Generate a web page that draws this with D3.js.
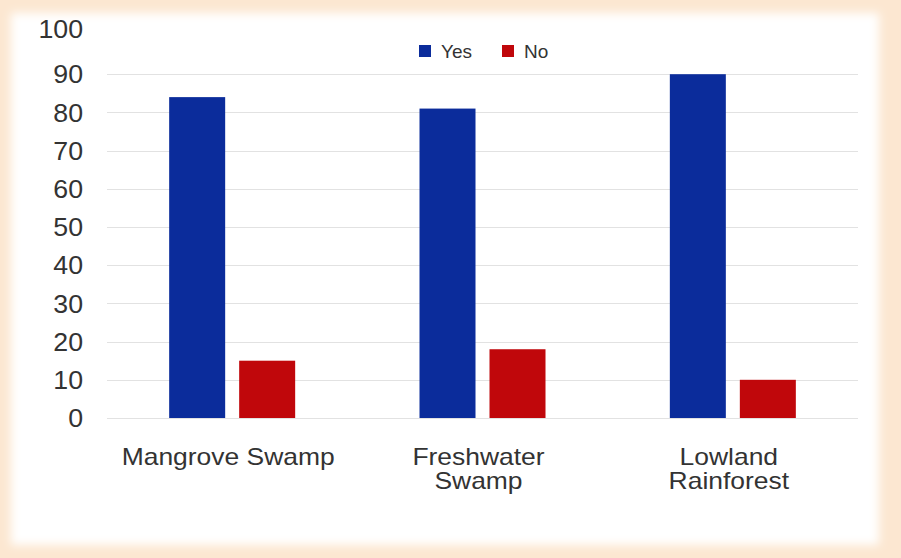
<!DOCTYPE html>
<html><head><meta charset="utf-8">
<script src="https://cdn.jsdelivr.net/npm/d3@7"></script>
<style>
html,body{margin:0;padding:0;background:#fce7d1;}
svg{display:block;}
text{font-family:"Liberation Sans",Arial,sans-serif;fill:#333;}
</style></head>
<body>
<svg id="chart" width="901" height="558"></svg>
<script>
const categories = ["Mangrove Swamp", "Freshwater Swamp", "Lowland Rainforest"];
const categoryLines = [["Mangrove Swamp"], ["Freshwater", "Swamp"], ["Lowland", "Rainforest"]];
const seriesNames = ["Yes", "No"];
const yesValues = [84, 81, 90];
const noValues = [15, 18, 10];
const yTicks = [0, 10, 20, 30, 40, 50, 60, 70, 80, 90, 100];
const gridTicks = [0, 10, 20, 30, 40, 50, 60, 70, 80, 90];
const colors = ["#0b2c9b", "#c0070b"];

const svg = d3.select("#chart");
const W = 901, H = 558;

const defs = svg.append("defs");
defs.append("filter").attr("id","soft").attr("x","-10%").attr("y","-10%").attr("width","120%").attr("height","120%")
  .append("feGaussianBlur").attr("stdDeviation", 5);
svg.append("rect").attr("width", W).attr("height", H).attr("fill", "#fce7d1");
svg.append("rect").attr("x", 11).attr("y", 13).attr("width", 868).attr("height", 532)
  .attr("fill", "#ffffff").attr("filter", "url(#soft)");

const y = d3.scaleLinear().domain([0, 100]).range([418, 36]);
const x0 = d3.scaleBand().domain(categories).range([107, 858]).paddingInner(0).paddingOuter(0);
const groupW = 126;
const x1 = d3.scaleBand().domain(seriesNames).range([0, groupW]).paddingInner(0.2).paddingOuter(0);

// gridlines
svg.append("g").selectAll("line").data(gridTicks).join("line")
  .attr("x1", 107).attr("x2", 858)
  .attr("y1", d => Math.round(y(d)) + 0.5).attr("y2", d => Math.round(y(d)) + 0.5)
  .attr("stroke", "#e2e2e2").attr("stroke-width", 1);

// y axis labels
const yAxis = d3.axisLeft(y).tickValues(yTicks).tickSize(0).tickPadding(0).tickFormat(d3.format("d"));
const gy = svg.append("g").attr("transform", "translate(83,0)").call(yAxis);
gy.select(".domain").remove();
gy.selectAll("text").attr("font-size", 25).attr("font-family", "Liberation Sans, Arial, sans-serif")
  .attr("fill", "#333").attr("dy", "0.35em")
  .attr("transform", "scale(1.07,1)").attr("x", 0);
gy.selectAll(".tick").filter(d => d === 100).select("text").attr("dy", "0.05em");

// bars
const data = categories.map((c, i) => ({cat: c, values: [
  {key: "Yes", value: yesValues[i]}, {key: "No", value: noValues[i]}]}));
const groups = svg.append("g").selectAll("g").data(data).join("g")
  .attr("transform", d => `translate(${x0(d.cat) + x0.bandwidth()/2 - groupW/2},0)`);
groups.selectAll("rect").data(d => d.values).join("rect")
  .attr("x", d => x1(d.key)).attr("width", x1.bandwidth())
  .attr("y", d => y(d.value)).attr("height", d => y(0) - y(d.value))
  .attr("fill", (d, i) => colors[i]);

// category labels
const xl = svg.append("g").selectAll("text").data(categories).join("text")
  .attr("text-anchor", "middle").attr("font-size", 23)
  .attr("transform", d => `translate(${x0(d) + x0.bandwidth()/2 - 4},465) scale(1.15,1)`);
xl.each(function(d, i) {
  d3.select(this).selectAll("tspan").data(categoryLines[i]).join("tspan")
    .attr("x", 0)
    .attr("dy", (t, j) => j === 0 ? 0 : 24)
    .text(t => t);
});

// legend
const legendX = [419, 502];
const lg = svg.append("g").selectAll("g").data(seriesNames).join("g")
  .attr("transform", (d, i) => `translate(${legendX[i]},45)`);
lg.append("rect").attr("width", 12).attr("height", 12).attr("fill", (d, i) => colors[i]);
lg.append("text").attr("x", 22).attr("y", 13).attr("font-size", 19).text(d => d);
</script>
</body></html>
